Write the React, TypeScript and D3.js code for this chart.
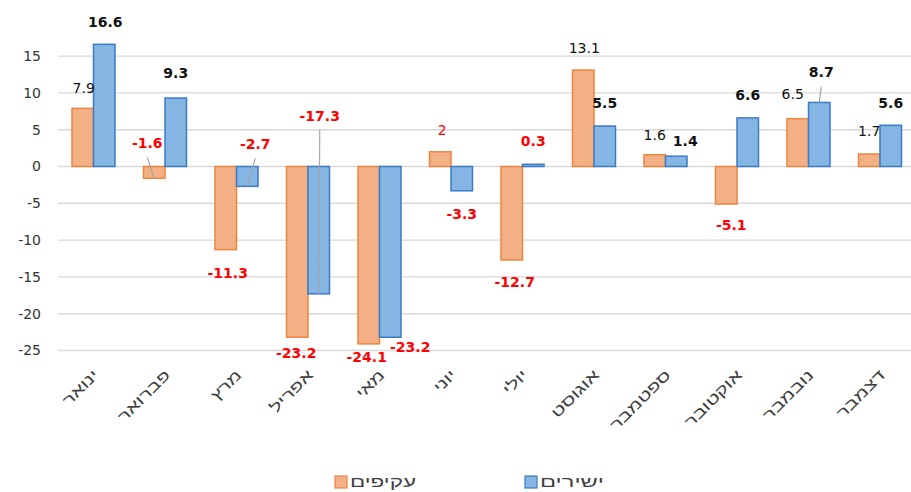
import React from "react";
import * as d3 from "d3";

const months = ["ינואר", "פברואר", "מרץ", "אפריל", "מאי", "יוני", "יולי", "אוגוסט", "ספטמבר", "אוקטובר", "נובמבר", "דצמבר"];
const indirect = [7.9, -1.6, -11.3, -23.2, -24.1, 2, -12.7, 13.1, 1.6, -5.1, 6.5, 1.7]; // עקיפים
const direct = [16.6, 9.3, -2.7, -17.3, -23.2, -3.3, 0.3, 5.5, 1.4, 6.6, 8.7, 5.6]; // ישירים
const yTicks = [15, 10, 5, 0, -5, -10, -15, -20, -25];
const seriesNames = ["עקיפים", "ישירים"];

// manual label nudges (pixels), relative to bar centre (dx) and bar end (dy, to baseline)
const indirectDx = [1, -7, 2, -1, -2, 2, 3, 1, 0, 5, -5, 0];
const indirectDy = [-15, -30, 28, 21, 18, -17, 27, -17, -15, 26, -20, -18];
const directDx = [1, 0, 8, 1, 20, 0, 0, 0, 9, 0, 2, 0];
const directDy = [-17, -20, -37, -173, 15, 28, -18, -18, -10, -18, -25, -17];
const indirectLeader = [false, true, false, false, false, false, false, false, false, false, false, false];
const directLeader = [false, false, true, true, false, false, false, false, false, false, true, false];
const indirectRedPositive = [5];
const directRedPositive = [6];

const W = 911;
const H = 492;

const colors = {
  oFill: "#F2B084",
  oStroke: "#EC8540",
  bFill: "#85B5E2",
  bStroke: "#3A7CC4",
  grid: "#D9D9D9",
};

const hebFont = "Liberation Sans, Arial, sans-serif";

export default function App() {
  const y = d3.scaleLinear().domain([-25, 15]).range([350.5, 56.1]);
  const x0 = d3.scaleBand<string>().domain(months).range([57.75, 915.75]).padding(0);
  const half = 21.5;

  const bars: any[] = [];
  const labels: any[] = [];
  const leaders: any[] = [];

  months.forEach((m, i) => {
    const c = (x0(m) as number) + x0.bandwidth() / 2;
    const x1 = d3.scaleBand<string>().domain(seriesNames).range([c - half, c + half]).padding(0);
    const defs = [
      { v: indirect[i], s: 0, dx: indirectDx[i], dy: indirectDy[i], lead: indirectLeader[i], redPos: indirectRedPositive.includes(i) },
      { v: direct[i], s: 1, dx: directDx[i], dy: directDy[i], lead: directLeader[i], redPos: directRedPositive.includes(i) },
    ];
    defs.forEach((d) => {
      const bx = x1(seriesNames[d.s]) as number;
      const bw = x1.bandwidth();
      const y0 = y(0);
      const yv = y(d.v);
      bars.push(
        <rect
          key={`b-${i}-${d.s}`}
          x={bx}
          y={Math.min(y0, yv)}
          width={bw}
          height={Math.max(Math.abs(yv - y0), 0.8)}
          fill={d.s === 0 ? colors.oFill : colors.bFill}
          stroke={d.s === 0 ? colors.oStroke : colors.bStroke}
          strokeWidth={1.5}
        />
      );
      const bc = bx + bw / 2;
      const lx = bc + d.dx;
      const ly = yv + d.dy;
      const neg = d.v < 0;
      const red = neg || d.redPos;
      const bold = red ? !(d.redPos && d.s === 0) : d.s === 1;
      labels.push(
        <text
          key={`l-${i}-${d.s}`}
          x={lx}
          y={ly}
          textAnchor="middle"
          fontFamily="DejaVu Sans, Verdana, sans-serif"
          fontSize={14}
          fontWeight={bold ? "bold" : "normal"}
          fill={red ? "#FF0000" : "#111"}
        >
          {String(d.v)}
        </text>
      );
      if (d.lead) {
        leaders.push(
          <line key={`ld-${i}-${d.s}`} x1={lx} y1={ly + 9} x2={bc} y2={yv} stroke="#A6A6A6" strokeWidth={1.2} />
        );
      }
    });
  });

  return (
    <svg width={W} height={H} style={{ position: "absolute", left: 0, top: 0, background: "#fff" }}>
      <rect x={0} y={0} width={W} height={H} fill="#fff" />
      {yTicks.map((t) => (
        <g key={`g-${t}`}>
          <line x1={58} x2={W} y1={y(t)} y2={y(t)} stroke={colors.grid} strokeWidth={1.4} />
          <text
            x={41}
            y={y(t)}
            dy="0.35em"
            textAnchor="end"
            fontFamily="DejaVu Sans, Verdana, sans-serif"
            fontSize={14}
            fill="#333"
          >
            {t}
          </text>
        </g>
      ))}
      {bars}
      {leaders}
      {labels}
      {months.map((m) => {
        const c = (x0(m) as number) + x0.bandwidth() / 2;
        return (
          <text
            key={`x-${m}`}
            transform={`translate(${c + 6},${376}) rotate(-45) scale(1.4,1)`}
            textAnchor="end"
            fontFamily={hebFont}
            fontSize={15}
            fill="#404040"
          >
            {m}
          </text>
        );
      })}
      <g>
        <rect x={335} y={476} width={12} height={12} fill={colors.oFill} stroke={colors.oStroke} strokeWidth={1.2} />
        <text x={350} y={482} dy="0.35em" fontFamily={hebFont} fontSize={15} fill="#404040" textLength={66} lengthAdjust="spacingAndGlyphs">
          {seriesNames[0]}
        </text>
        <rect x={525} y={476} width={12} height={12} fill={colors.bFill} stroke={colors.bStroke} strokeWidth={1.2} />
        <text x={540} y={482} dy="0.35em" fontFamily={hebFont} fontSize={15} fill="#404040" textLength={64} lengthAdjust="spacingAndGlyphs">
          {seriesNames[1]}
        </text>
      </g>
    </svg>
  );
}
